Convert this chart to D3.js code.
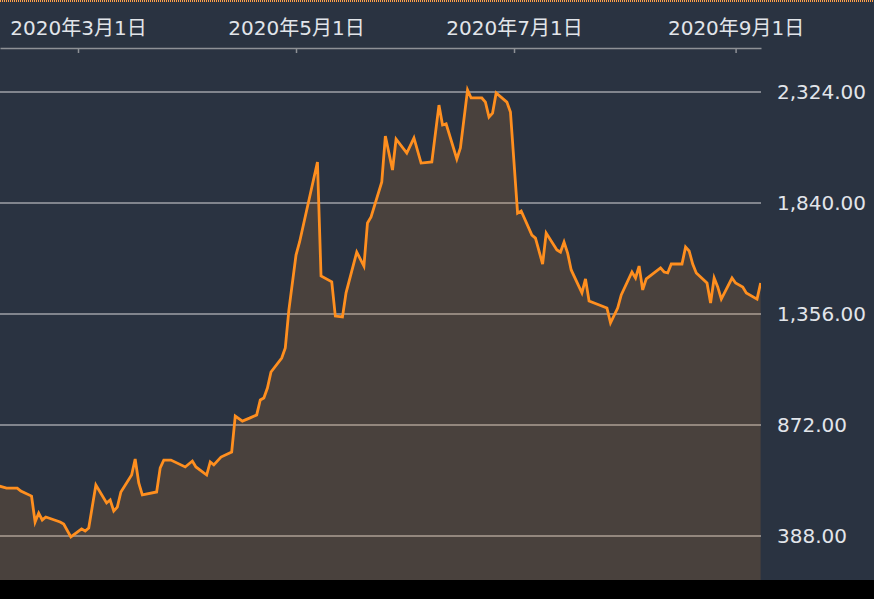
<!DOCTYPE html>
<html>
<head>
    <meta charset="utf-8">
    <script src="https://cdnjs.cloudflare.com/ajax/libs/d3/7.8.5/d3.min.js"></script>
    <title>price chart</title>
    <style>
    body { margin: 0; background: #000; }
    svg { display: block; }
    .lbl { font-family: "DejaVu Sans", "Noto Sans CJK JP", sans-serif; font-size: 20px; fill: #e2e5ea; }
    </style>
</head>
<body>
<div id="container"></div>
<script>
// Data
var dates = ["2020-02-08","2020-02-10","2020-02-13","2020-02-14","2020-02-17","2020-02-18","2020-02-19","2020-02-20","2020-02-21","2020-02-25",
  "2020-02-26","2020-02-28","2020-03-02","2020-03-03","2020-03-04","2020-03-06","2020-03-09","2020-03-10","2020-03-11","2020-03-12",
  "2020-03-13","2020-03-16","2020-03-17","2020-03-18","2020-03-19","2020-03-23","2020-03-24","2020-03-25","2020-03-27","2020-03-31",
  "2020-04-02","2020-04-03","2020-04-06","2020-04-07","2020-04-08","2020-04-10","2020-04-13","2020-04-14","2020-04-16","2020-04-18",
  "2020-04-20","2020-04-21","2020-04-22","2020-04-23","2020-04-24","2020-04-27","2020-04-28","2020-04-29","2020-05-01","2020-05-02",
  "2020-05-07","2020-05-08","2020-05-11","2020-05-12","2020-05-14","2020-05-15","2020-05-18","2020-05-20","2020-05-21","2020-05-22",
  "2020-05-25","2020-05-26","2020-05-28","2020-05-29","2020-06-01","2020-06-03","2020-06-05","2020-06-08","2020-06-10","2020-06-11",
  "2020-06-12","2020-06-15","2020-06-16","2020-06-18","2020-06-19","2020-06-22","2020-06-23","2020-06-24","2020-06-25","2020-06-26",
  "2020-06-29","2020-06-30","2020-07-02","2020-07-03","2020-07-06","2020-07-07","2020-07-09","2020-07-10","2020-07-13","2020-07-14",
  "2020-07-15","2020-07-16","2020-07-17","2020-07-20","2020-07-21","2020-07-22","2020-07-27","2020-07-28","2020-07-30","2020-07-31",
  "2020-08-03","2020-08-04","2020-08-05","2020-08-06","2020-08-07","2020-08-11","2020-08-12","2020-08-13","2020-08-14","2020-08-17",
  "2020-08-18","2020-08-19","2020-08-20","2020-08-21","2020-08-24","2020-08-25","2020-08-26","2020-08-27","2020-08-28","2020-08-31",
  "2020-09-01","2020-09-03","2020-09-04","2020-09-07","2020-09-08"];
var prices = [606,597,597,584,562,449,488,458,471,449,
  440,384,419,410,423,610,532,545,497,514,
  580,654,724,619,567,580,685,719,719,689,
  715,689,654,711,698,732,754,911,889,902,
  916,981,990,1033,1103,1164,1208,1373,1613,1670,
  2019,1522,1496,1347,1343,1448,1626,1565,1753,1779,
  1932,2132,1984,2119,2058,2124,2014,2019,2267,2180,
  2185,2032,2080,2333,2298,2298,2280,2215,2232,2320,
  2280,2237,1796,1805,1700,1687,1574,1709,1635,1626,
  1670,1622,1548,1448,1509,1413,1382,1317,1382,1439,
  1539,1513,1565,1461,1509,1557,1539,1535,1574,1574,
  1648,1631,1574,1535,1491,1404,1513,1474,1421,1513,
  1491,1474,1448,1421,1491];
var xTickDates = ["2020-03-01","2020-05-01","2020-07-01","2020-09-01"];
var xTickLabels = ["2020年3月1日","2020年5月1日","2020年7月1日","2020年9月1日"];
var yTicks = [388, 872, 1356, 1840, 2324];

var w = 874, h = 599;
var plotRight = 761, plotTop = 48, plotBottom = 580;
var parse = d3.timeParse("%Y-%m-%d");

var data = dates.map(function(d, i) { return { date: parse(d), value: prices[i] }; });

// x: Mar 1 sits at 78px, Sep 1 at 735.6px; then stretch to the plot edges
var x = d3.scaleTime()
    .domain([parse("2020-03-01"), parse("2020-09-01")])
    .range([78, 735.6]);
x.domain([x.invert(0), x.invert(plotRight)]).range([0, plotRight]);

var y = d3.scaleLinear().domain([388, 2324]).range([536, 92]);

var svg = d3.select("#container").append("svg")
    .attr("width", w)
    .attr("height", h);

svg.append("rect").attr("width", w).attr("height", h).attr("fill", "#2a3341");
svg.append("rect").attr("y", plotBottom).attr("width", w).attr("height", h - plotBottom).attr("fill", "#000");

// dotted orange edge at top
svg.append("line")
    .attr("x1", 0).attr("x2", w).attr("y1", 1).attr("y2", 1)
    .attr("stroke", "#ffa04a").attr("stroke-width", 2).attr("stroke-dasharray", "1,1");

svg.append("clipPath").attr("id", "clip")
  .append("rect")
    .attr("x", 0).attr("y", plotTop)
    .attr("width", plotRight).attr("height", plotBottom - plotTop);

// grid lines (under the translucent area)
svg.append("g").selectAll("line")
    .data(yTicks)
    .enter()
    .append("line")
    .attr("x1", 0).attr("x2", plotRight)
    .attr("y1", function(d) { return y(d); })
    .attr("y2", function(d) { return y(d); })
    .attr("stroke", "#9fa2a7")
    .attr("stroke-width", 1.5);

var area = d3.area()
    .x(function(d) { return x(d.date); })
    .y0(plotBottom)
    .y1(function(d) { return y(d.value); });

var line = d3.line()
    .x(function(d) { return x(d.date); })
    .y(function(d) { return y(d.value); });

var g = svg.append("g").attr("clip-path", "url(#clip)");
g.append("path").datum(data)
    .attr("d", area)
    .attr("fill", "rgba(255,145,40,0.15)");
g.append("path").datum(data)
    .attr("d", line)
    .attr("fill", "none")
    .attr("stroke", "#ff8f1f")
    .attr("stroke-width", 2.8)
    .attr("stroke-linejoin", "miter");

// top axis: line at y=48, ticks pointing down, labels above
var xAxis = d3.axisTop(x)
    .tickValues(xTickDates.map(parse))
    .tickFormat(function(d, i) { return xTickLabels[i]; })
    .tickSizeInner(-5)
    .tickSizeOuter(0)
    .tickPadding(13);

var gx = svg.append("g").attr("transform", "translate(0," + plotTop + ")").call(xAxis);
gx.select(".domain").attr("stroke", "#8e9196").attr("stroke-width", 1.5);
gx.selectAll(".tick line").attr("stroke", "#8e9196").attr("stroke-width", 1.5);
gx.selectAll(".tick text").attr("class", "lbl").attr("fill", null);

// right axis labels
var yAxis = d3.axisRight(y)
    .tickValues(yTicks)
    .tickFormat(d3.format(",.2f"))
    .tickSize(0)
    .tickPadding(16);

var gy = svg.append("g").attr("transform", "translate(" + plotRight + ",0)").call(yAxis);
gy.select(".domain").remove();
gy.selectAll(".tick text").attr("class", "lbl").attr("fill", null);
</script>
</body>
</html>
